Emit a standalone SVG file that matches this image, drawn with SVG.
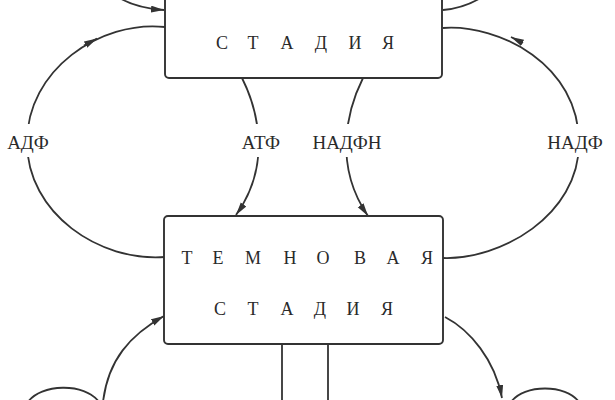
<svg xmlns="http://www.w3.org/2000/svg" width="615" height="400" viewBox="0 0 615 400">
<style>
.box{fill:#fff;stroke:#333;stroke-width:1.9}
.ln{fill:none;stroke:#333;stroke-width:1.8}
.arr{marker-end:url(#ah)}
.t{font-family:"Liberation Serif","Times New Roman",serif;font-size:18px;fill:#2a2a2a;text-anchor:middle}
.lb{font-size:19px}
.bg{fill:#fff}
</style>
<defs>
<marker id="ah" markerUnits="userSpaceOnUse" markerWidth="14" markerHeight="8" refX="13" refY="3.5" orient="auto">
<path d="M0,0 L13,3.5 L0,7 Z" fill="#333"/>
</marker>
</defs>
<rect width="615" height="400" fill="#fff"/>
<g id="connectors">
<path class="ln arr" d="M118,-3 Q135,8 164,10"/>
<path class="ln" d="M443,10 Q465,8 482,-3"/>
<path class="ln" d="M165,27 C100,20 27,70 27,142 C27,214 100,262 165,257"/>
<path class="ln arr" d="M84,45.5 L97,38.5"/>
<path class="ln" d="M443,28 C500,24 579,65 579,143 C579,216 500,260 443,258"/>
<path class="ln arr" d="M523,43 L511,37"/>
<path class="ln arr" d="M242,78 C258,110 272,165 236,215"/>
<path class="ln arr" d="M363,78 C347,110 333,165 368,216"/>
<path class="ln arr" d="M103,402 C108,360 130,335 164,316"/>
<path class="ln arr" d="M445,317 C470,330 495,360 502,398"/>
<path class="ln" d="M282,344 V402 M328,344 V402"/>
<path class="ln" d="M28,402 C40,384 85,382 99,402"/>
<path class="ln" d="M511,402 C524,384 566,384 579,402"/>
</g>
<g id="labels">
<rect class="bg" x="5" y="124" width="46" height="33"/>
<text class="t lb" x="28" y="149">АДФ</text>
<rect class="bg" x="238" y="124" width="46" height="33"/>
<text class="t lb" x="261" y="149">АТФ</text>
<rect class="bg" x="309" y="124" width="76" height="33"/>
<text class="t lb" x="347" y="149">НАДФН</text>
<rect class="bg" x="545" y="124" width="61" height="33"/>
<text class="t lb" x="575" y="149">НАДФ</text>
</g>
<g id="light-stage">
<rect class="box" x="165" y="-40" width="277" height="118" rx="4"/>
<text class="t" x="222 237.5 253 270 287 304 321 338 355 371.5 388" y="49">С Т А Д И Я</text>
</g>
<g id="dark-stage">
<rect class="box" x="164" y="216" width="279" height="128" rx="4"/>
<text class="t" x="187 202.5 218 235.5 253 271.5 290 306.5 323 341.5 360 376.5 393 410 427" y="264">Т Е М Н О В А Я</text>
<text class="t" x="220 236.5 253 270 287 303.5 320 336.5 353 370 387" y="315">С Т А Д И Я</text>
</g>
</svg>
